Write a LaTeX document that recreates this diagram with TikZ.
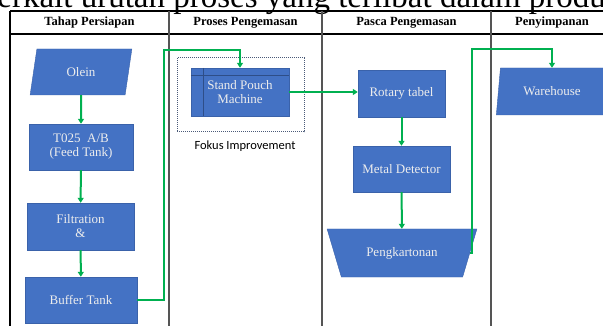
\documentclass[tikz,border=0pt]{standalone}
\usepackage{fontspec}
\setmainfont{Liberation Serif}
\newfontfamily\calibfont{Carlito}
\usepackage{xcolor}
\usetikzlibrary{arrows.meta,positioning,shapes.geometric}
\definecolor{boxblue}{HTML}{4472C4}
\definecolor{boxedge}{HTML}{3A62AA}
\definecolor{flowgreen}{HTML}{00B050}
\definecolor{laneline}{HTML}{555555}
\definecolor{fokusline}{HTML}{4A5A78}

\begin{document}
\begin{tikzpicture}[x=1pt,y=-1pt, font=\fontsize{13}{14}\selectfont,
  proc/.style={draw=boxedge, fill=boxblue, text=white!93!black, align=center, inner sep=1pt},
  io/.style={proc, trapezium, trapezium left angle=78, trapezium right angle=102, trapezium stretches=true},
  flow/.style={draw=flowgreen, line width=2pt, -{Triangle[length=5pt,width=6pt]}},
  head/.style={font=\fontsize{12.5}{13}\selectfont\bfseries}]
\useasboundingbox (0,0) rectangle (603,326);
\clip (0,0) rectangle (603,326);
% kalimat di atas tabel
\node[anchor=base west, inner sep=0, font=\fontsize{33}{36}\selectfont] (intro) at (-12,7.5) {terkait urutan proses yang terlibat dalam produksi};
% tabel
\draw[line width=1.2pt] (10,11) -- (620,11);
\draw[line width=1.2pt] (10,34) -- (620,34);
\draw[line width=1.8pt] (10,11) -- (10,330);
\foreach \lx in {169,322,491} \draw[laneline, line width=1.2pt] (\lx,11) -- (\lx,330);
\node[head] (h1) at (89.5,22.5) {Tahap Persiapan};
\node[head] (h2) at (245.5,22.5) {Proses Pengemasan};
\node[head] (h3) at (406.5,22.5) {Pasca Pengemasan};
\node[head] (h4) at (552,22.5) {Penyimpanan};
% tahap persiapan
\node[io, minimum width=102, minimum height=46] (olein) at (81,72) {Olein};
\node[proc, minimum width=104, minimum height=46] (feed) at (81,147) {T025~ A/B\\(Feed Tank)};
\node[proc, minimum width=107, minimum height=47] (filt) at (80.5,226.5) {Filtration\\\&};
\node[proc, minimum width=112, minimum height=46] (buffer) at (81,300) {Buffer Tank};
% proses pengemasan
\node[draw=fokusline, densely dotted, line width=1pt, minimum width=127, minimum height=74] (fokus) at (240.5,95) {};
\node[font=\calibfont\fontsize{12.5}{13}\selectfont] (fokuslbl) at (245,146) {Fokus Improvement};
\node[proc, minimum width=98, minimum height=48] (pouch) at (240,92) {Stand Pouch\\Machine};
\draw[boxedge!80!black] ([xshift=12]pouch.north west) -- ([xshift=12]pouch.south west);
\draw[boxedge!80!black] ([yshift=-7]pouch.north west) -- ([yshift=-7]pouch.north east);
% pasca pengemasan
\node[proc, minimum width=87, minimum height=47] (rotary) at (401.5,93.5) {Rotary tabel};
\node[proc, minimum width=97, minimum height=46] (metal) at (401.5,169) {Metal Detector};
\node[proc, trapezium, trapezium left angle=122, trapezium right angle=122, trapezium stretches=true, minimum width=150, minimum height=48] (karton) at (402,253) {Pengkartonan};
% penyimpanan
\node[io, minimum width=112, minimum height=47] (wh) at (552,91.5) {Warehouse};
% alur
\draw[flow] (olein) -- (feed);
\draw[flow] (feed) -- (filt);
\draw[flow] (filt) -- (buffer);
\coordinate (up1) at (164,50);
\draw[flow] (buffer.east) -| (up1) -| (pouch.north);
\draw[flow] (pouch.east) -- (pouch.east -| rotary.west);
\draw[flow] (rotary) -- (metal);
\draw[flow] (metal) -- (karton);
\coordinate (up2) at (472,49);
\draw[flow] (karton.east) -| (up2) -| (wh.north);
\end{tikzpicture}
\end{document}
